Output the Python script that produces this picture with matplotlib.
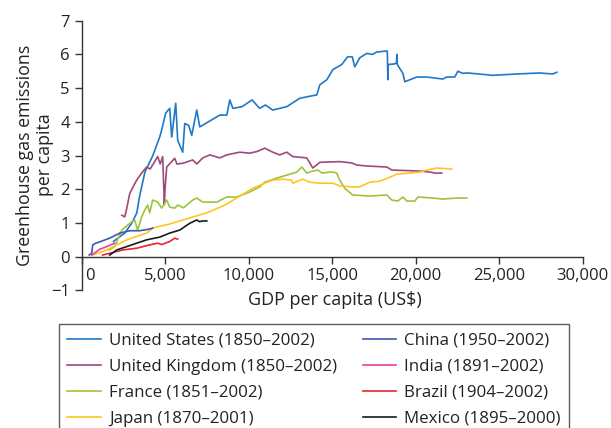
import matplotlib
matplotlib.use('Agg')
import matplotlib.pyplot as plt
import matplotlib.transforms as mtransforms

plt.rcParams['font.family'] = ['Open Sans', 'DejaVu Sans']

# GDP per capita (US$) vs greenhouse gas emissions per capita
us_x = [1900, 2300, 2580, 3000, 3300, 3470, 3780, 4260, 4670, 4790, 5030, 5270, 5390, 5630, 5750,
        6050, 6170, 6400, 6590, 6890, 7070, 8270, 8690, 8870, 9050, 9600, 10200, 10660, 11000, 11440,
        12280, 13060, 14080, 14260, 14680, 15040, 15570, 15930, 16200, 16350, 16650, 17070, 17400,
        17670, 18210, 18300, 18330, 18350, 18750, 18850, 18870, 18900, 19230, 19350, 20070, 20660,
        21620, 21860, 22340, 22520, 22820, 23120, 24620, 26060, 27430, 28210, 28450]
us_y = [0.45, 0.6, 0.7, 1.0, 1.3, 1.8, 2.5, 3.0, 3.55, 3.76, 4.26, 4.4, 3.55, 4.55, 3.45,
        3.1, 3.95, 3.9, 3.6, 4.35, 3.85, 4.2, 4.2, 4.65, 4.4, 4.45, 4.65, 4.4, 4.5, 4.35,
        4.45, 4.7, 4.8, 5.1, 5.25, 5.55, 5.7, 5.93, 5.93, 5.63, 5.9, 6.03, 6.0,
        6.07, 6.1, 6.1, 5.25, 5.7, 5.72, 5.75, 6.0, 5.7, 5.44, 5.19, 5.33, 5.33,
        5.27, 5.33, 5.33, 5.5, 5.44, 5.45, 5.38, 5.42, 5.45, 5.42, 5.47]

uk_x = [2400, 2580, 2700, 2880, 3290, 3590, 3890, 4100, 4370, 4550, 4700, 4850, 4950, 4990, 5090,
        5390, 5570, 5700, 6050, 6650, 6890, 7250, 7670, 8270, 8690, 9460, 10060, 10500, 10960,
        11440, 11860, 12280, 12640, 13480, 13840, 14260, 15450, 16170, 16470, 17070, 18270, 18570,
        20250, 20850, 21150, 21560]
uk_y = [1.23, 1.18, 1.44, 1.88, 2.27, 2.48, 2.66, 2.6, 2.82, 2.97, 2.75, 2.97, 1.55, 2.0, 2.66,
        2.82, 2.92, 2.75, 2.77, 2.87, 2.75, 2.93, 3.02, 2.93, 3.02, 3.1, 3.07, 3.12, 3.22,
        3.1, 3.02, 3.1, 2.97, 2.93, 2.63, 2.8, 2.82, 2.78, 2.72, 2.69, 2.66, 2.57,
        2.54, 2.51, 2.48, 2.48]

fr_x = [1650, 1980, 2400, 2880, 3170, 3350, 3590, 3770, 3950, 4070, 4250, 4550, 4790, 5090, 5270,
        5570, 5750, 6100, 6650, 6890, 7250, 8090, 8690, 9280, 10060, 10660, 10960, 11680, 12280,
        12880, 13180, 13480, 13840, 14140, 14380, 14860, 15040, 15270, 15450, 15750, 16230, 17250,
        18270, 18570, 18930, 19230, 19470, 19950, 20130, 21020, 21620, 22460, 23060]
fr_y = [0.2, 0.3, 0.79, 0.99, 1.09, 0.79, 1.18, 1.38, 1.53, 1.3, 1.68, 1.62, 1.44, 1.68, 1.47,
        1.44, 1.53, 1.45, 1.68, 1.74, 1.62, 1.62, 1.77, 1.77, 1.92, 2.07, 2.21, 2.33, 2.42,
        2.51, 2.66, 2.48, 2.54, 2.57, 2.48, 2.51, 2.51, 2.48, 2.27, 2.03, 1.83, 1.8,
        1.83, 1.68, 1.65, 1.77, 1.65, 1.65, 1.77, 1.74, 1.71, 1.74, 1.74]

jp_x = [660, 1500, 2100, 2700, 3170, 3890, 4250, 5270, 6470, 7490, 8570, 9580, 10240, 10960,
        11440, 12040, 12580, 12640, 13240, 13660, 14260, 14680, 15040, 15450, 16230, 16650,
        17250, 17850, 18330, 18870, 19650, 20250, 20660, 21260, 22160]
jp_y = [0.05, 0.2, 0.35, 0.5, 0.58, 0.7, 0.85, 0.97, 1.15, 1.3, 1.53, 1.83, 2.03, 2.18,
        2.27, 2.3, 2.27, 2.18, 2.3, 2.21, 2.18, 2.18, 2.18, 2.1, 2.07, 2.07,
        2.21, 2.24, 2.33, 2.45, 2.48, 2.51, 2.57, 2.63, 2.6]

cn_x = [450, 600, 660, 840, 1080, 1680, 2280, 2880, 3470, 4070, 4250]
cn_y = [0.05, 0.1, 0.35, 0.4, 0.44, 0.55, 0.7, 0.77, 0.77, 0.82, 0.85]

in_x = [600, 1080, 1500, 1980]
in_y = [0.05, 0.22, 0.3, 0.4]

br_x = [1260, 1680, 2460, 3290, 4070, 4550, 4800, 5270, 5570, 5750]
br_y = [0.05, 0.1, 0.2, 0.25, 0.35, 0.4, 0.36, 0.45, 0.55, 0.52]

mx_x = [1680, 2100, 2700, 3290, 3890, 4670, 5270, 5870, 6470, 6890, 7050, 7250, 7490]
mx_y = [0.05, 0.2, 0.3, 0.4, 0.5, 0.58, 0.7, 0.79, 0.99, 1.09, 1.04, 1.06, 1.06]

x_ticks = [0, 5000, 10000, 15000, 20000, 25000, 30000]
x_labels = ['0', '5,000', '10,000', '15,000', '20,000', '25,000', '30,000']
y_ticks = [-1, 0, 1, 2, 3, 4, 5, 6, 7]

fig = plt.figure(figsize=(6.11, 4.28), dpi=100)
ax = fig.add_axes([0.1337, 0.3215, 0.82, 0.6301])

series = [
    (us_x, us_y, '#1f78c8', 'United States (1850\u20132002)'),
    (uk_x, uk_y, '#9c4a7a', 'United Kingdom (1850\u20132002)'),
    (fr_x, fr_y, '#9dc33b', 'France (1851\u20132002)'),
    (jp_x, jp_y, '#ffc525', 'Japan (1870\u20132001)'),
    (cn_x, cn_y, '#3b5aa8', 'China (1950\u20132002)'),
    (in_x, in_y, '#e8409a', 'India (1891\u20132002)'),
    (br_x, br_y, '#e8262c', 'Brazil (1904\u20132002)'),
    (mx_x, mx_y, '#1a1a1a', 'Mexico (1895\u20132000)'),
]
for xs, ys, c, lab in series:
    ax.plot(xs, ys, color=c, lw=1.2, label=lab)

ax.set_xlim(0, 30000)
ax.set_ylim(-1, 7)
ax.spines['top'].set_visible(False)
ax.spines['right'].set_visible(False)
ax.spines['bottom'].set_position(('data', 0))
for s in ('left', 'bottom'):
    ax.spines[s].set_color('#333333')
    ax.spines[s].set_linewidth(1.0)
ax.set_xticks(x_ticks)
ax.set_xticklabels(x_labels)
ax.set_yticks(y_ticks)
ax.set_yticklabels(['\u22121' if t == -1 else str(t) for t in y_ticks])
ax.tick_params(direction='out', length=5, width=1, colors='#333333', labelsize=12, labelcolor='#222222')
ax.tick_params(axis='x', pad=3)

# the "0" label sits to the right of the axis
lbl0 = ax.get_xticklabels()[0]
lbl0.set_transform(lbl0.get_transform() + mtransforms.ScaledTranslation(8 / 100, 0, fig.dpi_scale_trans))

fig.text(335 / 611, 1 - 300 / 428, 'GDP per capita (US$)', ha='center', va='center', fontsize=13, color='#222222')
fig.text(35 / 611, 1 - 155 / 428, 'Greenhouse gas emissions\nper capita', ha='center', va='center',
         rotation=90, fontsize=12.8, color='#222222', linespacing=1.15)

handles, labels = ax.get_legend_handles_labels()
leg = fig.legend(handles, labels, loc='upper left', bbox_to_anchor=(59 / 611, 1 - 324 / 428),
                 ncol=2, fontsize=12.2, frameon=True, fancybox=False, edgecolor='#333333',
                 handlelength=2.0, handletextpad=0.45, columnspacing=1.5, labelspacing=0.6,
                 borderpad=0.5, borderaxespad=0)
leg.get_frame().set_linewidth(1.0)
for t in leg.get_texts():
    t.set_color('#222222')

plt.savefig('out.png', dpi=100)
